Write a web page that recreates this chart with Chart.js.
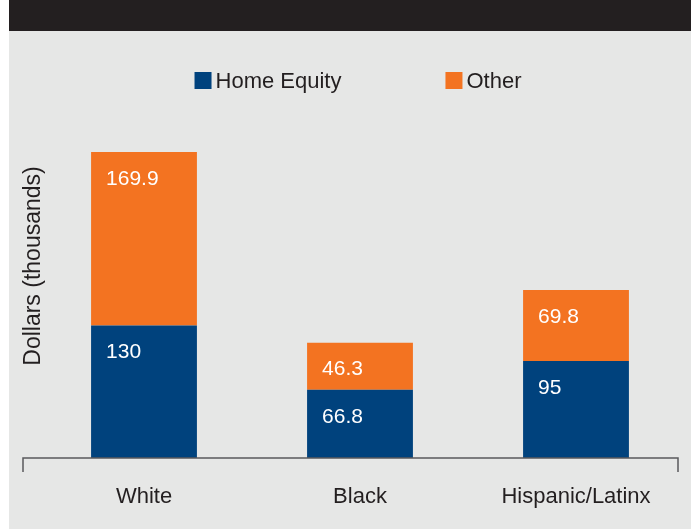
<!DOCTYPE html>
<html>
<head>
<meta charset="utf-8">
<script src="https://cdn.jsdelivr.net/npm/chart.js@4"></script>
<style>
  html, body { margin: 0; padding: 0; background: #ffffff; }
  #wrap { width: 691px; height: 529px; }
</style>
</head>
<body>
<div id="wrap"><canvas id="chart" width="691" height="529"></canvas></div>
<script>
const categories = ['White', 'Black', 'Hispanic/Latinx'];
const homeEquity = [130, 66.8, 95];
const other = [169.9, 46.3, 69.8];
const seriesNames = ['Home Equity', 'Other'];
const seriesColors = ['#00427d', '#f37321'];
const yTitle = 'Dollars (thousands)';

const textColor = '#231f20';
const fontFamily = '"Liberation Sans", Arial, Helvetica, sans-serif';

// page background, top band, legend, y title, axis line and value labels
const decor = {
    id: 'decor',
    beforeDraw(chart) {
        const c = chart.ctx;
        c.save();
        c.fillStyle = '#ffffff';
        c.fillRect(0, 0, chart.width, chart.height);
        c.fillStyle = '#e6e7e6';
        c.fillRect(9, 0, chart.width - 9, chart.height);
        c.fillStyle = '#231f20';
        c.fillRect(9, 0, chart.width - 9, 31);
        c.restore();
    },
    afterDraw(chart) {
        const c = chart.ctx;
        const area = chart.chartArea;
        c.save();

        // legend
        c.font = '22px ' + fontFamily;
        c.textBaseline = 'middle';
        c.textAlign = 'left';
        const items = chart.data.datasets.map(function (ds) {
            return { label: ds.label, color: ds.backgroundColor, w: 17 + 4 + c.measureText(ds.label).width };
        });
        const gap = 104;
        let total = items.reduce(function (s, it) { return s + it.w; }, 0) + gap * (items.length - 1);
        let x = (area.left + area.right) / 2 - total / 2 - 2;
        const ly = 81;
        items.forEach(function (it) {
            c.fillStyle = it.color;
            c.fillRect(x, ly - 9, 17, 17);
            c.fillStyle = textColor;
            c.fillText(it.label, x + 21, ly + 1);
            x += it.w + gap;
        });

        // y title
        c.save();
        c.translate(34, 266);
        c.rotate(-Math.PI / 2);
        c.textAlign = 'center';
        c.font = '23px ' + fontFamily;
        c.fillStyle = textColor;
        c.fillText(yTitle, 0, 0);
        c.restore();

        // axis line with end ticks
        const x0 = area.left - 13, x1 = area.right - 6, y0 = area.bottom;
        c.strokeStyle = '#5a5a5c';
        c.lineWidth = 1.5;
        c.beginPath();
        c.moveTo(x0, y0 + 14);
        c.lineTo(x0, y0);
        c.lineTo(x1, y0);
        c.lineTo(x1, y0 + 14);
        c.stroke();

        // value labels
        c.font = '21px ' + fontFamily;
        c.fillStyle = '#ffffff';
        c.textAlign = 'left';
        chart.data.datasets.forEach(function (ds, i) {
            chart.getDatasetMeta(i).data.forEach(function (bar, j) {
                c.fillText(String(ds.data[j]), bar.x - bar.width / 2 + 15, bar.y + 27);
            });
        });
        c.restore();
    }
};

var ctx = document.getElementById('chart');
var chart = new Chart(ctx, {
    type: 'bar',
    data: {
        labels: categories,
        datasets: [
            { label: seriesNames[0], data: homeEquity, backgroundColor: seriesColors[0] },
            { label: seriesNames[1], data: other, backgroundColor: seriesColors[1] },
        ],
    },
    options: {
        responsive: false,
        animation: false,
        devicePixelRatio: 1,
        barPercentage: 0.49,
        categoryPercentage: 1,
        layout: { padding: { left: 36, right: 7, top: 101, bottom: 0 } },
        plugins: {
            legend: { display: false },
            tooltip: { enabled: false },
        },
        scales: {
            x: {
                stacked: true,
                grid: { display: false, drawTicks: false },
                border: { display: false },
                ticks: { color: textColor, font: { family: fontFamily, size: 22 }, padding: 26 },
                afterFit: function (scale) { scale.height = 71; },
            },
            y: {
                stacked: true,
                display: false,
                min: 0,
                max: 350,
            },
        },
    },
    plugins: [decor],
});
</script>
</body>
</html>
